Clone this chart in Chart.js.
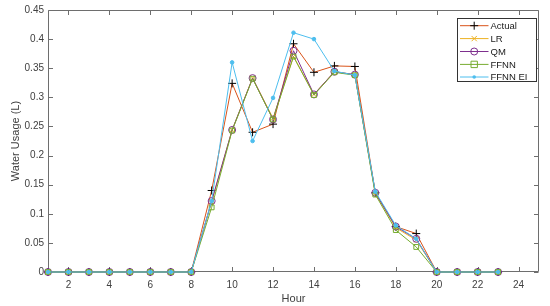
<!DOCTYPE html>
<html>
<head>
<meta charset="utf-8">
<script src="https://cdn.jsdelivr.net/npm/chart.js@4.4.0/dist/chart.umd.min.js"></script>
<style>
html,body{margin:0;padding:0;background:#fff;}
#wrap{width:550px;height:306px;}
</style>
</head>
<body>
<div id="wrap"><canvas id="c" width="550" height="306"></canvas></div>
<script>
const hours = [1,2,3,4,5,6,7,8,9,10,11,12,13,14,15,16,17,18,19,20,21,22,23];
const actual = [0,0,0,0,0,0,0,0,0.140,0.324,0.240,0.254,0.392,0.343,0.354,0.353,0.136,0.078,0.066,0,0,0,0];
const lr     = [0,0,0,0,0,0,0,0,0.120,0.244,0.333,0.264,0.370,0.305,0.344,0.339,0.135,0.076,0.055,0,0,0,0];
const qm     = [0,0,0,0,0,0,0,0,0.122,0.244,0.333,0.262,0.380,0.305,0.344,0.339,0.136,0.078,0.057,0,0,0,0];
const ffnn   = [0,0,0,0,0,0,0,0,0.111,0.243,0.332,0.262,0.370,0.304,0.343,0.338,0.133,0.072,0.043,0,0,0,0];
const ffnnEI = [0,0,0,0,0,0,0,0,0.122,0.360,0.225,0.299,0.411,0.400,0.345,0.338,0.138,0.080,0.057,0,0,0,0];
const xTicks = [2,4,6,8,10,12,14,16,18,20,22,24];
const yTicks = [0,0.05,0.1,0.15,0.2,0.25,0.3,0.35,0.4,0.45];
const yTickLabels = ['0','0.05','0.1','0.15','0.2','0.25','0.3','0.35','0.4','0.45'];
const seriesNames = ['Actual','LR','QM','FFNN','FFNN EI'];

const AXIS = '#6e6e6e';
const TXT = '#404040';
const FONT = '"Liberation Sans", Arial, sans-serif';

function pts(arr){ return arr.map((v,i)=>({x:hours[i], y:v})); }

const styles = [
  {line:'#D95319', mk:'#000000', shape:'plus', r:4, fill:false},
  {line:'#EDB120', mk:'#EDB120', shape:'x', r:3.5, fill:false},
  {line:'#7E2F8E', mk:'#7E2F8E', shape:'circle', r:3.5, fill:false},
  {line:'#77AC30', mk:'#77AC30', shape:'square', r:3.2, fill:false},
  {line:'#4DBEEE', mk:'#4DBEEE', shape:'dot', r:1.8, fill:true}
];
const shapeMap = {plus:'cross', x:'crossRot', circle:'circle', square:'rect', dot:'circle'};
const seriesData = [actual, lr, qm, ffnn, ffnnEI];

const datasets = seriesData.map((d,i)=>{
  const s = styles[i];
  return {
    label: seriesNames[i],
    data: pts(d),
    borderColor: s.line,
    backgroundColor: s.fill ? s.mk : 'rgba(0,0,0,0)',
    borderWidth: 1,
    pointStyle: shapeMap[s.shape],
    pointRadius: s.shape==='square' ? 3.4 : s.r,
    pointBorderColor: s.mk,
    pointBackgroundColor: s.fill ? s.mk : 'rgba(0,0,0,0)',
    pointBorderWidth: 1,
    tension: 0,
    clip: 6,
    order: 5 - i
  };
});

function drawMarker(ctx, s, x, y){
  ctx.save();
  ctx.strokeStyle = s.mk; ctx.fillStyle = s.mk; ctx.lineWidth = 1;
  const r = s.r;
  ctx.beginPath();
  if (s.shape==='plus'){ ctx.moveTo(x-r,y); ctx.lineTo(x+r,y); ctx.moveTo(x,y-r); ctx.lineTo(x,y+r); ctx.stroke(); }
  else if (s.shape==='x'){ const q=r*0.75; ctx.moveTo(x-q,y-q); ctx.lineTo(x+q,y+q); ctx.moveTo(x-q,y+q); ctx.lineTo(x+q,y-q); ctx.stroke(); }
  else if (s.shape==='circle'){ ctx.arc(x,y,r,0,Math.PI*2); ctx.stroke(); }
  else if (s.shape==='square'){ ctx.rect(x-r,y-r,2*r,2*r); ctx.stroke(); }
  else { ctx.arc(x,y,r,0,Math.PI*2); ctx.fill(); }
  ctx.restore();
}

const boxPlugin = {
  id:'boxPlugin',
  beforeDatasetsDraw(chart){
    const ctx = chart.ctx, a = chart.chartArea;
    const xs = chart.scales.x, ys = chart.scales.y;
    ctx.save();
    ctx.strokeStyle = AXIS; ctx.lineWidth = 1;
    ctx.beginPath();
    const L = Math.round(a.left)+0.5, R = Math.round(a.right)-0.5, T = Math.round(a.top)+0.5, B = Math.round(a.bottom)-0.5;
    ctx.moveTo(L,T); ctx.lineTo(R,T); ctx.lineTo(R,B); ctx.lineTo(L,B); ctx.lineTo(L,T);
    const tl = 4.5;
    xTicks.forEach(v=>{
      const px = Math.round(xs.getPixelForValue(v))+0.5;
      ctx.moveTo(px,B); ctx.lineTo(px,B-tl);
      ctx.moveTo(px,T); ctx.lineTo(px,T+tl);
    });
    yTicks.forEach(v=>{
      const py = Math.round(ys.getPixelForValue(v))+0.5;
      ctx.moveTo(L,py); ctx.lineTo(L+tl,py);
      ctx.moveTo(R,py); ctx.lineTo(R-tl,py);
    });
    ctx.stroke();
    ctx.restore();
  },
  afterDraw(chart){
    const ctx = chart.ctx;
    // legend
    const lx = 457.5, ly = 18.5, lw = 79, lh = 63;
    ctx.save();
    ctx.fillStyle = '#fff';
    ctx.fillRect(lx, ly, lw, lh);
    ctx.strokeStyle = '#333'; ctx.lineWidth = 1;
    ctx.strokeRect(lx, ly, lw, lh);
    ctx.font = '9.5px ' + FONT;
    ctx.textBaseline = 'middle';
    ctx.textAlign = 'left';
    const rowY = [25.7, 38.6, 51.5, 64.4, 77.0];
    seriesNames.forEach((n,i)=>{
      const s = styles[i];
      const y = rowY[i];
      ctx.strokeStyle = s.line; ctx.lineWidth = 1;
      ctx.beginPath(); ctx.moveTo(460, y); ctx.lineTo(488.5, y); ctx.stroke();
      drawMarker(ctx, s, 474.2, y);
      ctx.fillStyle = '#1a1a1a';
      ctx.fillText(n, 490.5, y+0.5);
    });
    ctx.restore();
  }
};

new Chart(document.getElementById('c'), {
  type: 'line',
  data: { datasets },
  options: {
    responsive: false,
    animation: false,
    events: [],
    layout: { padding: { top: 9, right: 11, left: 0, bottom: 0 } },
    plugins: { legend: { display: false }, tooltip: { enabled: false } },
    scales: {
      x: {
        type: 'linear', min: 1, max: 25,
        afterBuildTicks(scale){ scale.ticks = xTicks.map(v=>({value:v})); },
        afterFit(scale){ scale.height = 34; },
        grid: { display: false, drawTicks: false },
        border: { display: false },
        ticks: { color: TXT, font: { family: FONT, size: 10 }, padding: 7, maxRotation: 0, autoSkip: false,
                 callback: (v)=> String(v) },
        title: { display: true, text: 'Hour', color: TXT, font: { family: FONT, size: 11 }, padding: { top: 0, bottom: 0 } }
      },
      y: {
        type: 'linear', min: 0, max: 0.45,
        afterBuildTicks(scale){ scale.ticks = yTicks.map(v=>({value:v})); },
        afterFit(scale){ scale.width = 48; },
        grid: { display: false, drawTicks: false },
        border: { display: false },
        ticks: { color: TXT, font: { family: FONT, size: 10 }, padding: 4, autoSkip: false,
                 callback: (v, i)=> yTickLabels[i] },
        title: { display: true, text: 'Water Usage (L)', color: TXT, font: { family: FONT, size: 11 }, padding: { top: 9, bottom: 0 } }
      }
    }
  },
  plugins: [boxPlugin]
});
</script>
</body>
</html>
